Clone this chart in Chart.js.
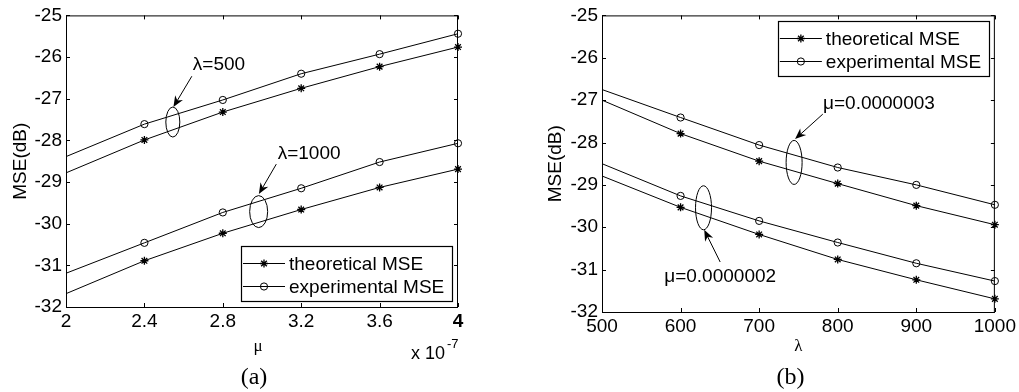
<!DOCTYPE html>
<html>
<head>
<meta charset="utf-8">
<script src="https://cdn.jsdelivr.net/npm/chart.js@4.4.1/dist/chart.umd.min.js"></script>
<style>
  html, body { margin: 0; padding: 0; background: #fff; }
  #wrap { position: relative; width: 1019px; height: 392px; }
  canvas { position: absolute; top: 0; }
  #chartA { left: 0; }
  #chartB { left: 510px; }
</style>
</head>
<body>
<div id="wrap">
  <canvas id="chartA" width="510" height="392"></canvas>
  <canvas id="chartB" width="509" height="392"></canvas>
</div>
<script>
// ─── Panel (a): MSE vs step size mu (in units of 1e-7) ───────────────────────
const muValues = [2, 2.4, 2.8, 3.2, 3.6, 4];
const muTicks  = [2, 2.4, 2.8, 3.2, 3.6, 4];
const theoLambda500  = [-28.78, -27.99, -27.32, -26.75, -26.23, -25.76];
const expLambda500   = [-28.39, -27.61, -27.03, -26.40, -25.93, -25.44];
const theoLambda1000 = [-31.68, -30.89, -30.23, -29.66, -29.13, -28.69];
const expLambda1000  = [-31.19, -30.46, -29.73, -29.15, -28.52, -28.07];

// ─── Panel (b): MSE vs lambda ─────────────────────────────────────────────────
const lambdaValues = [500, 600, 700, 800, 900, 1000];
const lambdaTicks  = [500, 600, 700, 800, 900, 1000];
const theoMu3 = [-27.00, -27.79, -28.44, -28.97, -29.49, -29.94];
const expMu3  = [-26.75, -27.41, -28.06, -28.59, -29.00, -29.47];
const theoMu2 = [-28.79, -29.53, -30.17, -30.76, -31.24, -31.69];
const expMu2  = [-28.50, -29.26, -29.85, -30.36, -30.85, -31.27];

const mseTicks = [-32, -31, -30, -29, -28, -27, -26, -25];
const legendLabels = ['theoretical MSE', 'experimental MSE'];

const SANS = '"Liberation Sans", Arial, sans-serif';
const SERIF = '"Liberation Serif", "Times New Roman", serif';

// MATLAB-ish frame: box, inward ticks on all sides, legend, notes, labels
function drawArrow(ctx, x0, y0, x1, y1) {
    const ang = Math.atan2(y1 - y0, x1 - x0);
    const c = Math.cos(ang), s = Math.sin(ang);
    const L = 11, W = 4.5;
    ctx.beginPath();
    ctx.moveTo(x0, y0);
    ctx.lineTo(x1 - L * 0.6 * c, y1 - L * 0.6 * s);
    ctx.stroke();
    ctx.beginPath();
    ctx.moveTo(x1, y1);
    ctx.lineTo(x1 - L * c + W * s, y1 - L * s - W * c);
    ctx.lineTo(x1 - L * 0.7 * c, y1 - L * 0.7 * s);
    ctx.lineTo(x1 - L * c - W * s, y1 - L * s + W * c);
    ctx.closePath();
    ctx.fill();
}

function drawMarker(ctx, style, x, y, r) {
    ctx.beginPath();
    if (style === 'circle') {
        ctx.arc(x, y, r, 0, Math.PI * 2);
    } else {
        const d = r * Math.SQRT1_2;
        ctx.moveTo(x - r, y); ctx.lineTo(x + r, y);
        ctx.moveTo(x, y - r); ctx.lineTo(x, y + r);
        ctx.moveTo(x - d, y - d); ctx.lineTo(x + d, y + d);
        ctx.moveTo(x - d, y + d); ctx.lineTo(x + d, y - d);
    }
    ctx.stroke();
}

const framePlugin = {
    id: 'frame',
    afterDraw(chart, args, o) {
        const { ctx, chartArea: a, scales: { x, y } } = chart;
        ctx.save();
        ctx.strokeStyle = '#000';
        ctx.fillStyle = '#000';
        ctx.lineWidth = 1;

        // box
        ctx.strokeRect(a.left + 0.5, a.top + 0.5, a.right - a.left - 1, a.bottom - a.top);

        // inward ticks
        const tl = 4;
        ctx.beginPath();
        x.ticks.forEach(t => {
            const px = Math.round(x.getPixelForValue(t.value)) + 0.5;
            ctx.moveTo(px, a.bottom); ctx.lineTo(px, a.bottom - tl);
            ctx.moveTo(px, a.top); ctx.lineTo(px, a.top + tl);
        });
        y.ticks.forEach(t => {
            const py = Math.round(y.getPixelForValue(t.value)) + 0.5;
            ctx.moveTo(a.left, py); ctx.lineTo(a.left + tl, py);
            ctx.moveTo(a.right, py); ctx.lineTo(a.right - tl, py);
        });
        ctx.stroke();

        // legend
        const lg = o.legend;
        const bx = a.right - lg.inset - lg.w;
        const by = lg.fromTop ? a.top + lg.inset : a.bottom - lg.inset - lg.h;
        ctx.fillStyle = '#fff';
        ctx.fillRect(bx, by, lg.w, lg.h);
        ctx.fillStyle = '#000';
        ctx.lineWidth = 1.2;
        ctx.strokeRect(Math.round(bx) + 0.5, Math.round(by) + 0.5, lg.w, lg.h);
        ctx.lineWidth = 1;
        ctx.font = '19px ' + SANS;
        ctx.textBaseline = 'middle';
        ctx.textAlign = 'left';
        const styles = ['star', 'circle'];
        [16.5, 40].forEach((dy, i) => {
            const ry = Math.round(by + dy) + 0.5;
            ctx.beginPath();
            ctx.moveTo(bx + 2, ry); ctx.lineTo(bx + 44, ry);
            ctx.stroke();
            ctx.lineWidth = i === 0 ? 1.3 : 1;
            drawMarker(ctx, styles[i], bx + 23, ry, i === 0 ? 4 : 3.6);
            ctx.lineWidth = 1;
            ctx.fillText(legendLabels[i], bx + 48, ry + 1);
        });

        // annotations: text, arrow and ellipse placed through the scales
        ctx.font = '19px ' + SANS;
        o.notes.forEach(n => {
            ctx.fillText(n.text, x.getPixelForValue(n.at[0]), y.getPixelForValue(n.at[1]));
            drawArrow(ctx,
                x.getPixelForValue(n.tail[0]), y.getPixelForValue(n.tail[1]),
                x.getPixelForValue(n.tip[0]), y.getPixelForValue(n.tip[1]));
            ctx.beginPath();
            ctx.ellipse(x.getPixelForValue(n.ring[0]), y.getPixelForValue(n.ring[1]),
                n.rx, n.ry, 0, 0, Math.PI * 2);
            ctx.stroke();
        });

        // axis labels
        const midX = (a.left + a.right) / 2;
        const midY = (a.top + a.bottom) / 2;
        ctx.save();
        ctx.translate(o.yLabelX, midY);
        ctx.rotate(-Math.PI / 2);
        ctx.textAlign = 'center';
        ctx.font = '19px ' + SANS;
        ctx.fillText('MSE(dB)', 0, 0);
        ctx.restore();

        ctx.textAlign = 'center';
        ctx.font = '17px ' + SERIF;
        ctx.fillText(o.xLabel, midX + o.xLabelDx, 347);
        ctx.font = '24px ' + SERIF;
        ctx.fillText(o.panel, midX + o.panelDx, 378);

        if (o.exponent) {
            ctx.textAlign = 'left';
            ctx.font = '18px ' + SANS;
            ctx.fillText('x 10', a.right - 47, 354);
            ctx.font = '13px ' + SANS;
            ctx.fillText('-7', a.right - 11, 344);
        }
        ctx.restore();
    }
};

function makeChart(id, cfg) {
    const series = cfg.series.map((s, k) => ({
        label: legendLabels[k % 2],
        data: cfg.xs.map((xv, i) => ({ x: xv, y: s[i] })),
        borderColor: '#000',
        borderWidth: 1,
        tension: 0,
        pointStyle: k % 2 === 0 ? 'star' : 'circle',
        pointRadius: c => c.dataIndex === 0 ? 0 : (k % 2 === 0 ? 4 : 3.6),
        pointBorderColor: '#000',
        pointBackgroundColor: 'rgba(0,0,0,0)',
        pointBorderWidth: k % 2 === 0 ? 1.3 : 1,
        clip: false
    }));

    return new Chart(document.getElementById(id), {
        type: 'line',
        data: { datasets: series },
        plugins: [framePlugin],
        options: {
            responsive: false,
            animation: false,
            events: [],
            layout: { padding: { left: 0, top: 14, right: cfg.padRight, bottom: 0 } },
            plugins: {
                legend: { display: false },
                tooltip: { enabled: false },
                frame: cfg.frame
            },
            scales: {
                x: {
                    type: 'linear',
                    min: cfg.xs[0],
                    max: cfg.xs[cfg.xs.length - 1],
                    afterBuildTicks: s => { s.ticks = cfg.xTicks.map(v => ({ value: v })); },
                    afterFit: s => { s.height = cfg.xHeight; },
                    grid: { display: false, drawTicks: false },
                    border: { display: false },
                    ticks: {
                        padding: 3,
                        color: '#000',
                        maxRotation: 0,
                        autoSkip: false,
                        font: c => ({
                            family: SANS, size: 19,
                            weight: (cfg.boldLast && c.tick && c.tick.value === cfg.xTicks[cfg.xTicks.length - 1]) ? 'bold' : 'normal'
                        }),
                        callback: v => String(+v.toFixed(1))
                    }
                },
                y: {
                    min: -32,
                    max: -25,
                    afterBuildTicks: s => { s.ticks = mseTicks.map(v => ({ value: v })); },
                    afterFit: s => { s.width = cfg.yWidth; },
                    grid: { display: false, drawTicks: false },
                    border: { display: false },
                    ticks: {
                        padding: 4,
                        color: '#000',
                        font: { family: SANS, size: 19 },
                        callback: v => String(v)
                    }
                }
            }
        }
    });
}

document.addEventListener('DOMContentLoaded', () => {
    makeChart('chartA', {
        xs: muValues,
        xTicks: muTicks,
        series: [theoLambda500, expLambda500, theoLambda1000, expLambda1000],
        padRight: 52, yWidth: 66, xHeight: 85, boldLast: true,
        frame: {
            legend: { w: 211, h: 55, inset: 6, fromTop: false },
            notes: [
                { text: 'λ=500',  at: [2.647, -26.18], tail: [2.642, -26.46], tip: [2.548, -27.20], ring: [2.545, -27.56], rx: 7, ry: 15 },
                { text: 'λ=1000', at: [3.080, -28.32], tail: [3.073, -28.57], tip: [2.984, -29.29], ring: [2.983, -29.71], rx: 9, ry: 16 }
            ],
            yLabelX: 21, xLabel: 'μ', xLabelDx: -4, panel: '(a)', panelDx: -8, exponent: true
        }
    });

    makeChart('chartB', {
        xs: lambdaValues,
        xTicks: lambdaTicks,
        series: [theoMu3, expMu3, theoMu2, expMu2],
        padRight: 24, yWidth: 92, xHeight: 80, boldLast: false,
        frame: {
            legend: { w: 211, h: 55, inset: 6, fromTop: true },
            notes: [
                { text: 'μ=0.0000003', at: [781.3, -27.09], tail: [781.0, -27.33], tip: [745.7, -27.92], ring: [744.5, -28.47], rx: 8, ry: 22 },
                { text: 'μ=0.0000002', at: [579.2, -31.16], tail: [650.4, -30.82], tip: [630.1, -30.06], ring: [629.2, -29.54], rx: 8, ry: 22 }
            ],
            yLabelX: 46, xLabel: 'λ', xLabelDx: 0, panel: '(b)', panelDx: -8, exponent: false
        }
    });
});
</script>
</body>
</html>
